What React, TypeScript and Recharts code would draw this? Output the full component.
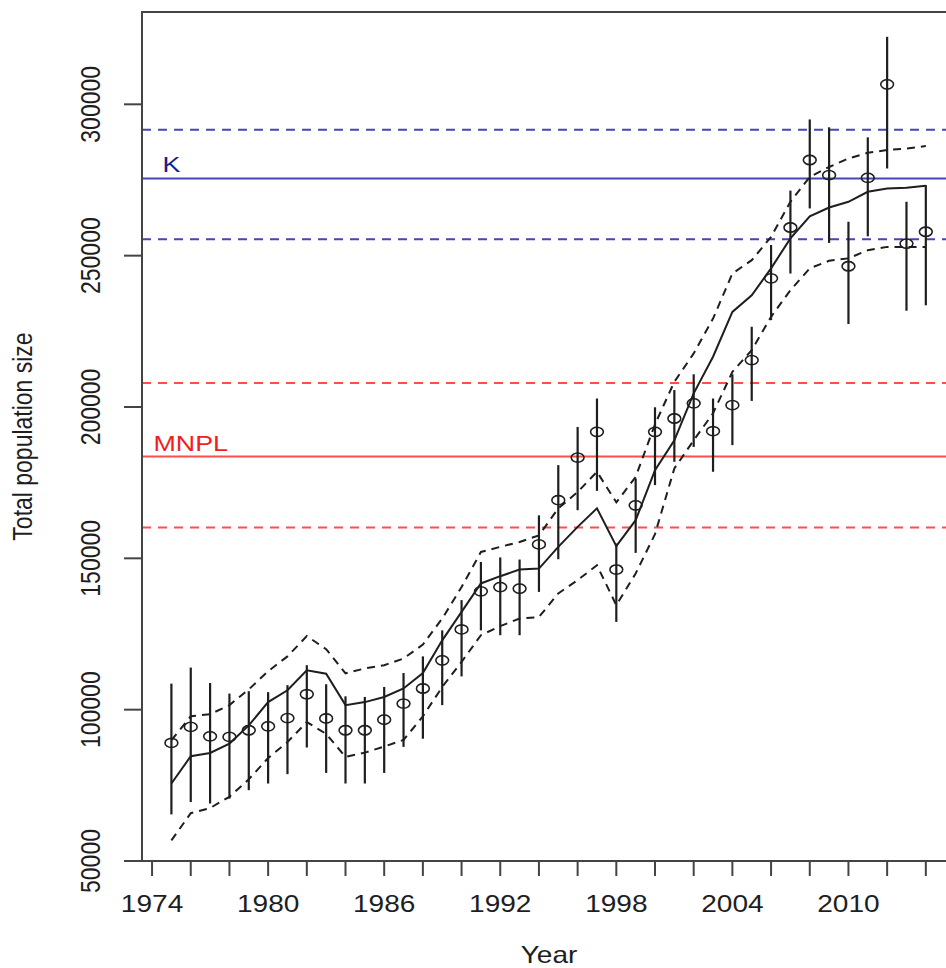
import React from 'react';
import {
  ComposedChart, Line, XAxis, YAxis, ReferenceLine, ReferenceArea, ReferenceDot, ErrorBar,
} from 'recharts';

// ---- data ----
const years = [
  1975, 1976, 1977, 1978, 1979, 1980, 1981, 1982, 1983, 1984,
  1985, 1986, 1987, 1988, 1989, 1990, 1991, 1992, 1993, 1994,
  1995, 1996, 1997, 1998, 1999, 2000, 2001, 2002, 2003, 2004,
  2005, 2006, 2007, 2008, 2009, 2010, 2011, 2012, 2013, 2014,
];
const observed = [
  89000, 94300, 91200, 91000, 93200, 94500, 97200, 105100, 97100, 93200,
  93200, 96700, 102000, 107000, 116300, 126500, 139100, 140500, 140000, 154600,
  169200, 183300, 191800, 146300, 167500, 191800, 196200, 201200, 192000, 200600,
  215500, 242500, 259300, 281600, 276600, 246500, 275700, 306600, 254000, 257900,
];
const observedHigh = [
  108600, 113900, 108800, 105300, 106100, 105800, 108100, 114700, 108400, 104400,
  104200, 107500, 112100, 117600, 126200, 136200, 148800, 150300, 149600, 164200,
  180800, 193400, 202800, 154900, 176400, 199900, 205600, 210800, 202800, 210800,
  226500, 253500, 271500, 295000, 292400, 261200, 289100, 322300, 267800, 273300,
];
const observedLow = [
  65400, 69500, 69000, 70600, 73400, 75600, 78700, 87500, 79100, 75600,
  75600, 79100, 87700, 90400, 101500, 111000, 126200, 124600, 124600, 138900,
  149700, 165900, 172300, 129000, 151800, 174200, 181900, 186800, 178600, 187400,
  202000, 228700, 244100, 265600, 254200, 227400, 256400, 278800, 231800, 233600,
];
const fitted = [
  75600, 84600, 85700, 88800, 94800, 102500, 106400, 113000, 111900, 101500,
  102500, 104200, 107000, 112100, 122900, 132300, 141700, 144100, 146300, 146600,
  153800, 160400, 166500, 154000, 162600, 179100, 189000, 204500, 216600, 231400,
  236900, 245800, 255700, 263000, 265900, 267800, 271100, 272200, 272400, 273100,
];
const fittedUpper = [
  89900, 97800, 98500, 101500, 106700, 112700, 117600, 124300, 120000, 112000,
  113600, 114700, 116900, 121500, 130100, 140500, 152100, 153800, 155400, 157600,
  166500, 171900, 178600, 168500, 176900, 194300, 208300, 217700, 229200, 244100,
  248500, 256200, 267800, 276000, 279300, 282100, 284000, 284900, 285400, 286200,
];
const fittedLower = [
  56800, 65800, 67500, 71200, 77000, 84000, 89300, 95900, 92000, 84400,
  85800, 87800, 90000, 97800, 107500, 115800, 124600, 127600, 130100, 130600,
  138400, 142800, 147700, 134500, 145000, 158000, 179700, 189000, 197900, 211600,
  218800, 229800, 238600, 245800, 248300, 249100, 251800, 252900, 252900, 252900,
];

const K = 275500;
const K_HIGH = 291600;
const K_LOW = 255450;
const MNPL = 183640;
const MNPL_HIGH = 207900;
const MNPL_LOW = 160180;

const xTicks = [1974, 1976, 1978, 1980, 1982, 1984, 1986, 1988, 1990, 1992, 1994,
  1996, 1998, 2000, 2002, 2004, 2006, 2008, 2010, 2012, 2014];
const xLabelled = [1974, 1980, 1986, 1992, 1998, 2004, 2010];
const yTicks = [50000, 100000, 150000, 200000, 250000, 300000];
const xDomain = [1973.48, 2015.56];
const yDomain = [50000, 330500];

const data = years.map((year, i) => ({
  year,
  obs: observed[i],
  err: [observed[i] - observedLow[i], observedHigh[i] - observed[i]],
  fit: fitted[i],
  hi: fittedUpper[i],
  lo: fittedLower[i],
}));

// ---- styles ----
const FONT = "'Liberation Sans', Arial, Helvetica, sans-serif";
const SX = 1.22;
const INK = '#1e1e1e';
const AXIS = '#444';
const BLUE = '#4646b4';
const RED = '#ff4d4d';

const XTick = (props: any) => {
  const { x, y, payload } = props;
  if (!xLabelled.includes(payload.value)) return <g />;
  return (
    <text transform={`translate(${x},${y + 34}) scale(${SX},1)`} textAnchor="middle"
      fontFamily={FONT} fontSize={23} fill={INK}>{payload.value}</text>
  );
};

const YTick = (props: any) => {
  const { x, y, payload } = props;
  return (
    <text transform={`translate(${x - 22},${y}) scale(${SX},1) rotate(-90)`} textAnchor="middle"
      fontFamily={FONT} fontSize={23} fill={INK}>{payload.value}</text>
  );
};

const XTitle = (props: any) => {
  const vb = props.viewBox;
  return (
    <text transform={`translate(${vb.x + vb.width / 2},${vb.y + 102}) scale(${SX},1)`} textAnchor="middle"
      fontFamily={FONT} fontSize={23} fill={INK}>Year</text>
  );
};

const YTitle = (props: any) => {
  const vb = props.viewBox;
  return (
    <text transform={`translate(${vb.x + 32},${vb.y + vb.height / 2}) scale(${SX},1) rotate(-90)`} textAnchor="middle"
      fontFamily={FONT} fontSize={23} fill={INK}>Total population size</text>
  );
};

const makeLineLabel = (text: string, color: string) => (props: any) => {
  const vb = props.viewBox;
  const cx = vb.x + vb.width / 2;
  const cy = vb.y + vb.height / 2;
  return (
    <text transform={`translate(${cx},${cy - 6}) scale(${SX},1)`} textAnchor="middle"
      fontFamily={FONT} fontSize={22} fill={color}>{text}</text>
  );
};

const EllipseDot = (props: any) => {
  const { cx, cy, index } = props;
  if (cx == null || cy == null) return <g key={`e-${index}`} />;
  return <ellipse key={`e-${index}`} cx={cx} cy={cy} rx={6.4} ry={4.6} fill="none" stroke={INK} strokeWidth={1.6} />;
};

export default function App() {
  return (
    <div style={{ position: 'absolute', left: 0, top: 0, width: 946, height: 968, overflow: 'hidden', background: '#fff' }}>
      <ComposedChart width={980} height={968} data={data} margin={{ top: 12, right: 24, bottom: 0, left: 0 }}>
        <XAxis dataKey="year" type="number" domain={xDomain} allowDataOverflow ticks={xTicks} interval={0}
          tickSize={15} tick={<XTick />} height={107}
          axisLine={{ stroke: AXIS, strokeWidth: 2 }} tickLine={{ stroke: AXIS, strokeWidth: 2 }}
          label={<XTitle />} />
        <YAxis type="number" domain={yDomain} allowDataOverflow ticks={yTicks} interval={0}
          tickSize={18} tick={<YTick />} width={142}
          axisLine={{ stroke: AXIS, strokeWidth: 2 }} tickLine={{ stroke: AXIS, strokeWidth: 2 }}
          label={<YTitle />} />
        <ReferenceArea x1={xDomain[0]} x2={xDomain[1]} y1={yDomain[0]} y2={yDomain[1]}
          fill="none" stroke={AXIS} strokeWidth={2} fillOpacity={0} />
        <ReferenceLine y={K} stroke={BLUE} strokeWidth={2} />
        <ReferenceLine y={K_HIGH} stroke={BLUE} strokeWidth={2} strokeDasharray="9 7" />
        <ReferenceLine y={K_LOW} stroke={BLUE} strokeWidth={2} strokeDasharray="9 7" />
        <ReferenceLine y={MNPL} stroke={RED} strokeWidth={2} />
        <ReferenceLine y={MNPL_HIGH} stroke={RED} strokeWidth={2} strokeDasharray="9 7" />
        <ReferenceLine y={MNPL_LOW} stroke={RED} strokeWidth={2} strokeDasharray="9 7" />
        <ReferenceDot x={1975} y={K} r={1} fill="none" stroke="none" label={makeLineLabel('K', '#1c1c8c')} />
        <ReferenceDot x={1976} y={MNPL} r={1} fill="none" stroke="none" label={makeLineLabel('MNPL', '#f01e1e')} />
        <Line type="linear" dataKey="hi" stroke={INK} strokeWidth={2} strokeDasharray="8 6" dot={false} activeDot={false} isAnimationActive={false} />
        <Line type="linear" dataKey="lo" stroke={INK} strokeWidth={2} strokeDasharray="8 6" dot={false} activeDot={false} isAnimationActive={false} />
        <Line type="linear" dataKey="fit" stroke={INK} strokeWidth={2} dot={false} activeDot={false} isAnimationActive={false} />
        <Line type="linear" dataKey="obs" stroke="none" dot={EllipseDot} activeDot={false} isAnimationActive={false}>
          <ErrorBar dataKey="err" width={0} stroke={INK} strokeWidth={2.2} direction="y" />
        </Line>
      </ComposedChart>
    </div>
  );
}
